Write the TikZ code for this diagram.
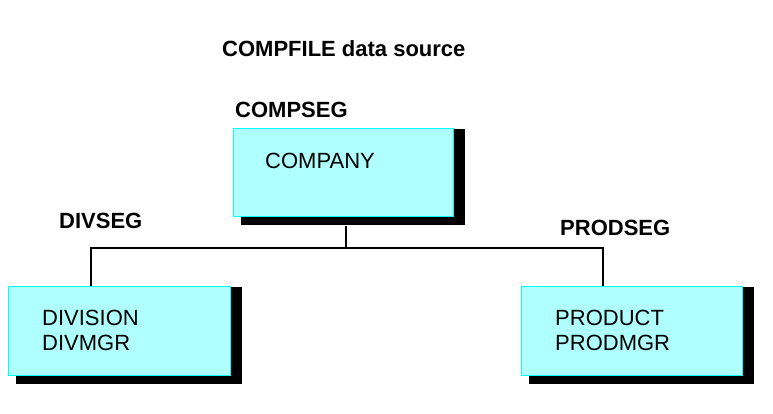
\documentclass[tikz,border=0pt]{standalone}
\usepackage{fontspec}
\setmainfont{Liberation Sans}
\usetikzlibrary{calc,backgrounds}
\definecolor{boxfill}{RGB}{176,255,255}
\definecolor{boxline}{RGB}{0,255,255}
\tikzset{
  segbox/.style={draw=boxline, fill=boxfill, line width=1.3pt, inner sep=0pt, anchor=north west},
  lbl/.style={anchor=base west, inner sep=0pt, font=\fontsize{22}{25}\selectfont\bfseries},
  txt/.style={anchor=base west, inner sep=0pt, align=left, font=\fontsize{22}{25}\selectfont},
  conn/.style={draw=black, line width=1.3pt},
  shadowbox/.style={fill=black}
}
\begin{document}
\begin{tikzpicture}[x=1pt,y=-1pt]
\useasboundingbox (0,0) rectangle (773,414);
% boxes
\node[segbox, minimum width=220pt, minimum height=88pt] (comp) at (233,128) {};
\node[segbox, minimum width=222pt, minimum height=89pt] (div) at (8,286) {};
\node[segbox, minimum width=221pt, minimum height=89pt] (prod) at (521,286) {};
% background and shadows
\begin{pgfonlayer}{background}
\fill[white] (0,0) rectangle (773,414);
\foreach \b in {comp,div,prod}{
  \fill[shadowbox] ($(\b.north west)+(8,1)$) rectangle ($(\b.south east)+(11,8)$);
}
\end{pgfonlayer}
% labels
\node[lbl] (title) at (222,57) {COMPFILE data source};
\node[lbl] (compseg) at (235,118) {COMPSEG};
\node[lbl] (divseg) at (59,228) {DIVSEG};
\node[lbl] (prodseg) at (560,235) {PRODSEG};
% box texts
\node[txt] (comptxt) at (265,169) {COMPANY};
\node[txt] (divtxt1) at (42,325) {DIVISION};
\node[txt] (divtxt2) at (42,350) {DIVMGR};
\node[txt] (prodtxt1) at (555,325) {PRODUCT};
\node[txt] (prodtxt2) at (555,350) {PRODMGR};
% connectors
\coordinate (cj) at (346,248);
\coordinate (dj) at (91,248);
\coordinate (pj) at (603,248);
\draw[conn] ($(comp.south -| cj)+(0,9)$) -- (cj);
\draw[conn] (dj |- div.north) -- (dj) -- (pj) -- (pj |- prod.north);
\end{tikzpicture}
\end{document}
